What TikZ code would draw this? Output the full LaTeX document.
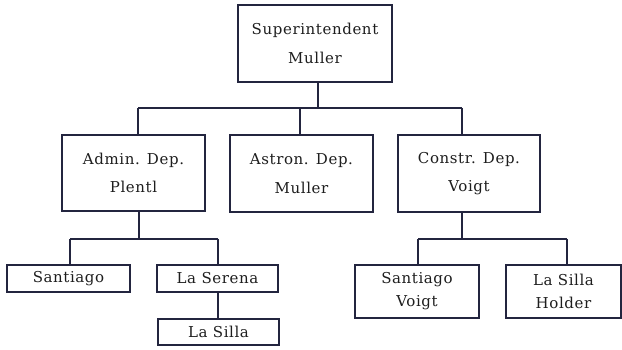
\documentclass[tikz,border=0pt]{standalone}
\usepackage{fontspec}
\setmainfont[LetterSpace=4]{DejaVu Serif}
\definecolor{ln}{HTML}{23253F}
\definecolor{tx}{HTML}{1E1E1E}
\begin{document}
\begin{tikzpicture}[x=1pt,y=-1pt,
  box/.style={draw=ln,line width=1.3pt,rectangle,inner sep=0pt,align=center,text=tx},
  bigbox/.style={box,font=\fontsize{15}{28.5}\selectfont},
  smallbox/.style={box,font=\fontsize{15}{23}\selectfont},
  conn/.style={draw=ln,line width=1.3pt}]
\useasboundingbox[fill=white] (0,0) rectangle (622,350);
\node[bigbox,minimum width=154pt,minimum height=77pt] (sup) at (315,43.5) {Superintendent\\Muller};
\node[bigbox,minimum width=143pt,minimum height=76pt] (adm) at (133.5,173) {Admin. Dep.\\Plentl};
\node[bigbox,minimum width=143pt,minimum height=77pt] (ast) at (301.5,173.5) {Astron. Dep.\\Muller};
\node[bigbox,minimum width=142pt,minimum height=77pt] (con) at (469,173.5) {Constr. Dep.\\Voigt};
\node[smallbox,minimum width=123pt,minimum height=27pt] (san) at (68.5,278.5) {Santiago};
\node[smallbox,minimum width=121pt,minimum height=27pt] (ser) at (217.5,278.5) {La Serena};
\node[smallbox,minimum width=121pt,minimum height=26pt] (sil) at (218.5,332) {La Silla};
\node[smallbox,minimum width=124pt,minimum height=53pt] (sv) at (417,291.5) {Santiago\\Voigt};
\node[smallbox,minimum width=115pt,minimum height=53pt] (lh) at (563.5,291.5) {La Silla\\Holder};
\coordinate (jS) at (318,108);
\coordinate (bL) at (138,108);
\coordinate (bR) at (462,108);
\coordinate (jA) at (300,108);
\draw[conn] (sup.south -| jS) -- (jS);
\draw[conn] (bL) -- (bR);
\draw[conn] (bL) -- (bL |- adm.north);
\draw[conn] (jA) -- (jA |- ast.north);
\draw[conn] (bR) -- (bR |- con.north);
\coordinate (jAd) at (139,239);
\coordinate (sL) at (70,239);
\coordinate (sR) at (218,239);
\draw[conn] (adm.south -| jAd) -- (jAd);
\draw[conn] (sL) -- (sR);
\draw[conn] (sL) -- (sL |- san.north);
\draw[conn] (sR) -- (sR |- ser.north);
\draw[conn] (ser.south -| sR) -- (sil.north -| sR);
\coordinate (jC) at (462,239);
\coordinate (cL) at (418,239);
\coordinate (cR) at (567,239);
\draw[conn] (con.south -| jC) -- (jC);
\draw[conn] (cL) -- (cR);
\draw[conn] (cL) -- (cL |- sv.north);
\draw[conn] (cR) -- (cR |- lh.north);
\end{tikzpicture}
\end{document}
